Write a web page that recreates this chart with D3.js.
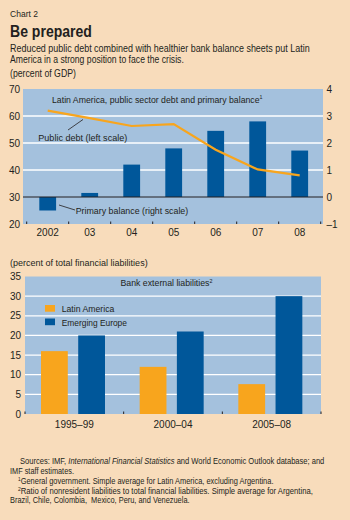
<!DOCTYPE html>
<html>
<head>
<meta charset="utf-8">
<script src="https://cdn.jsdelivr.net/npm/d3@7"></script>
<style>
  html, body { margin: 0; padding: 0; background: #f8dcbb; }
  svg { display: block; font-family: "Liberation Sans", Arial, sans-serif; }
</style>
</head>
<body>
<div id="chart"></div>
<script>
// top panel
const years = ['2002', '03', '04', '05', '06', '07', '08'];
const publicDebt = [62, 59.2, 56.3, 57, 47.5, 40.2, 38];
const primaryBalance = [-0.5, 0.15, 1.2, 1.8, 2.45, 2.8, 1.72];
const leftTicks = [20, 30, 40, 50, 60, 70];
const rightTicks = [-1, 0, 1, 2, 3, 4];

// bottom panel
const periods = ['1995–99', '2000–04', '2005–08'];
const seriesNames = ['Latin America', 'Emerging Europe'];
const latinAmerica = [16, 12, 7.6];
const emergingEurope = [20, 21, 30];
const bottomTicks = [0, 5, 10, 15, 20, 25, 30, 35];

const peach = '#f8dcbb', plotBlue = '#a4c1dd', darkBlue = '#00579a', orange = '#f8a51d', ink = '#231f20';

const svg = d3.select('#chart').append('svg')
    .attr('width', 350)
    .attr('height', 520);

svg.append('rect').attr('width', 350).attr('height', 520).attr('fill', peach);

// the original uses a condensed face; squeeze regular text to the measured width
function squeeze(sel, x, y, w) {
    const len = sel.node().getComputedTextLength();
    const k = w / len;
    sel.attr('x', 0).attr('y', 0)
        .attr('transform', `translate(${x},${y}) scale(${k},1)`);
    return sel;
}
function note(parent, x, y, w, size, str) {
    const t = parent.append('text').attr('font-size', size).attr('fill', ink).text(str);
    return squeeze(t, x, y, w);
}

// headings
note(svg, 10, 17, 28, 9.5, 'Chart 2');
squeeze(svg.append('text').attr('font-size', 16).attr('font-weight', 'bold').attr('fill', ink).text('Be prepared'), 10, 37, 82);
note(svg, 10, 52, 300, 10.5, 'Reduced public debt combined with healthier bank balance sheets put Latin');
note(svg, 10, 62.5, 174, 10.5, 'America in a strong position to face the crisis.');
note(svg, 10, 77, 66, 10, '(percent of GDP)');

// ---------- top chart ----------
const topBox = {left: 23, right: 323, top: 89, bottom: 224};

const x = d3.scaleBand()
    .domain(years)
    .range([26.7, 320.7])
    .paddingInner(0.6)
    .paddingOuter(0.3);
const yL = d3.scaleLinear().domain([20, 70]).range([topBox.bottom, topBox.top]);
const yR = d3.scaleLinear().domain([-1, 4]).range([topBox.bottom, topBox.top]);

svg.append('rect')
    .attr('x', topBox.left).attr('y', topBox.top)
    .attr('width', topBox.right - topBox.left).attr('height', topBox.bottom - topBox.top)
    .attr('fill', plotBlue);

svg.append('g').selectAll('line')
    .data([40, 50, 60])
    .join('line')
    .attr('x1', topBox.left).attr('x2', topBox.right)
    .attr('y1', d => yL(d)).attr('y2', d => yL(d))
    .attr('stroke', '#fff').attr('stroke-width', 1.3);

svg.append('g').selectAll('rect')
    .data(primaryBalance)
    .join('rect')
    .attr('x', (d, i) => x(years[i]))
    .attr('width', x.bandwidth())
    .attr('y', d => yR(Math.max(0, d)))
    .attr('height', d => Math.abs(yR(d) - yR(0)))
    .attr('fill', darkBlue);

svg.append('line')
    .attr('x1', topBox.left).attr('x2', topBox.right)
    .attr('y1', yR(0)).attr('y2', yR(0))
    .attr('stroke', ink).attr('stroke-width', 1);

const line = d3.line()
    .x((d, i) => x(years[i]) + x.bandwidth() / 2)
    .y(d => yL(d));
svg.append('path')
    .datum(publicDebt)
    .attr('d', line)
    .attr('fill', 'none')
    .attr('stroke', orange)
    .attr('stroke-width', 2.2);

// x tick marks between categories
const stepTicks = d3.range(years.length + 1).map(i => x.range()[0] + i * x.step());
svg.append('g').selectAll('line')
    .data(stepTicks)
    .join('line')
    .attr('x1', d => d).attr('x2', d => d)
    .attr('y1', topBox.bottom - 2.5).attr('y2', topBox.bottom)
    .attr('stroke', ink).attr('stroke-width', 1);

svg.append('g').selectAll('text')
    .data(years)
    .join('text')
    .attr('x', d => x(d) + x.bandwidth() / 2)
    .attr('y', 236)
    .attr('text-anchor', 'middle')
    .attr('font-size', 10).attr('fill', ink)
    .text(d => d);

svg.append('g').selectAll('text')
    .data(leftTicks)
    .join('text')
    .attr('x', 20).attr('y', d => yL(d) + 3.5)
    .attr('text-anchor', 'end')
    .attr('font-size', 10).attr('fill', ink)
    .text(d => d);

svg.append('g').selectAll('text')
    .data(rightTicks)
    .join('text')
    .attr('x', 326.5).attr('y', d => yR(d) + 3.5)
    .attr('font-size', 10).attr('fill', ink)
    .text(d => d < 0 ? '–' + Math.abs(d) : d);

const topTitle = svg.append('text').attr('font-size', 9.8).attr('fill', ink);
topTitle.append('tspan').text('Latin America, public sector debt and primary balance');
topTitle.append('tspan').attr('font-size', 6).attr('dy', -3.5).text('1');
squeeze(topTitle, 52, 102.5, 211);

// annotations
svg.append('line')
    .attr('x1', 68).attr('y1', 130).attr('x2', 83).attr('y2', 119.5)
    .attr('stroke', ink).attr('stroke-width', 0.8);
note(svg, 38.3, 141, 89, 9.8, 'Public debt (left scale)');

svg.append('line')
    .attr('x1', 59).attr('y1', 205).attr('x2', 75).attr('y2', 210)
    .attr('stroke', ink).attr('stroke-width', 0.8);
note(svg, 75.7, 213.5, 112.6, 9.8, 'Primary balance (right scale)');

// ---------- bottom chart ----------
const bot = {left: 25, right: 321, top: 276.5, bottom: 414};

note(svg, 10, 266, 137.7, 9.8, '(percent of total financial liabilities)');

const x0 = d3.scaleBand().domain(periods).range([bot.left, bot.right]);
const x1 = d3.scaleBand().domain(seriesNames).range([16, 80]).paddingInner(0.28);
const y2 = d3.scaleLinear().domain([0, 35]).range([bot.bottom, bot.top]);
const color = d3.scaleOrdinal().domain(seriesNames).range([orange, darkBlue]);

svg.append('rect')
    .attr('x', bot.left).attr('y', bot.top)
    .attr('width', bot.right - bot.left).attr('height', bot.bottom - bot.top)
    .attr('fill', plotBlue);

svg.append('g').selectAll('line')
    .data(bottomTicks.filter(d => d > 0 && d < 35))
    .join('line')
    .attr('x1', bot.left).attr('x2', bot.right)
    .attr('y1', d => y2(d)).attr('y2', d => y2(d))
    .attr('stroke', '#fff').attr('stroke-width', 1.3);

const rows = periods.map((p, i) => ({period: p, values: [latinAmerica[i], emergingEurope[i]]}));
svg.append('g').selectAll('g')
    .data(rows)
    .join('g')
    .attr('transform', d => `translate(${x0(d.period)},0)`)
    .selectAll('rect')
    .data(d => d.values.map((v, j) => ({key: seriesNames[j], value: v})))
    .join('rect')
    .attr('x', d => x1(d.key))
    .attr('width', x1.bandwidth())
    .attr('y', d => y2(d.value))
    .attr('height', d => y2(0) - y2(d.value))
    .attr('fill', d => color(d.key));

svg.append('g').selectAll('line')
    .data(d3.range(periods.length + 1).map(i => bot.left + i * x0.step()))
    .join('line')
    .attr('x1', d => d).attr('x2', d => d)
    .attr('y1', bot.bottom - 2.5).attr('y2', bot.bottom)
    .attr('stroke', ink).attr('stroke-width', 1);

svg.append('g').selectAll('text')
    .data(bottomTicks)
    .join('text')
    .attr('x', 21).attr('y', d => y2(d) + 3.5)
    .attr('text-anchor', 'end')
    .attr('font-size', 10).attr('fill', ink)
    .text(d => d);

svg.append('g').selectAll('text')
    .data(periods)
    .join('text')
    .attr('x', d => x0(d) + x0.bandwidth() / 2)
    .attr('y', 428)
    .attr('text-anchor', 'middle')
    .attr('font-size', 10).attr('fill', ink)
    .text(d => d);

const botTitle = svg.append('text').attr('font-size', 9.8).attr('fill', ink);
botTitle.append('tspan').text('Bank external liabilities');
botTitle.append('tspan').attr('font-size', 6).attr('dy', -3.5).text('2');
squeeze(botTitle, 120.5, 286, 92);

const legend = svg.append('g').selectAll('g')
    .data(seriesNames)
    .join('g')
    .attr('transform', (d, i) => `translate(45,${305 + i * 13.5})`);
legend.append('rect').attr('width', 10).attr('height', 6.7).attr('fill', d => color(d));
legend.each(function(d, i) {
    note(d3.select(this), 16.7, 7, i === 0 ? 52.7 : 65.3, 9.8, d);
});

// ---------- notes ----------
const notes = svg.append('g').attr('font-size', 8.5).attr('fill', ink);
const n1 = notes.append('text');
n1.append('tspan').text('Sources: IMF, ');
n1.append('tspan').attr('font-style', 'italic').text('International Financial Statistics');
n1.append('tspan').text(' and World Economic Outlook database; and');
squeeze(n1, 20, 464, 305);
note(notes, 10, 474, 64, 8.5, 'IMF staff estimates.');
const n2 = notes.append('text');
n2.append('tspan').attr('font-size', 5.5).attr('dy', -3).text('1');
n2.append('tspan').attr('dy', 3).text('General government. Simple average for Latin America, excluding Argentina.');
squeeze(n2, 18, 484, 255.7);
const n3 = notes.append('text');
n3.append('tspan').attr('font-size', 5.5).attr('dy', -3).text('2');
n3.append('tspan').attr('dy', 3).text('Ratio of nonresident liabilities to total financial liabilities. Simple average for Argentina,');
squeeze(n3, 18, 493.5, 295.3);
note(notes, 10, 503, 177.7, 8.5, 'Brazil, Chile, Colombia,  Mexico, Peru, and Venezuela.').attr('xml:space', 'preserve');
</script>
</body>
</html>
